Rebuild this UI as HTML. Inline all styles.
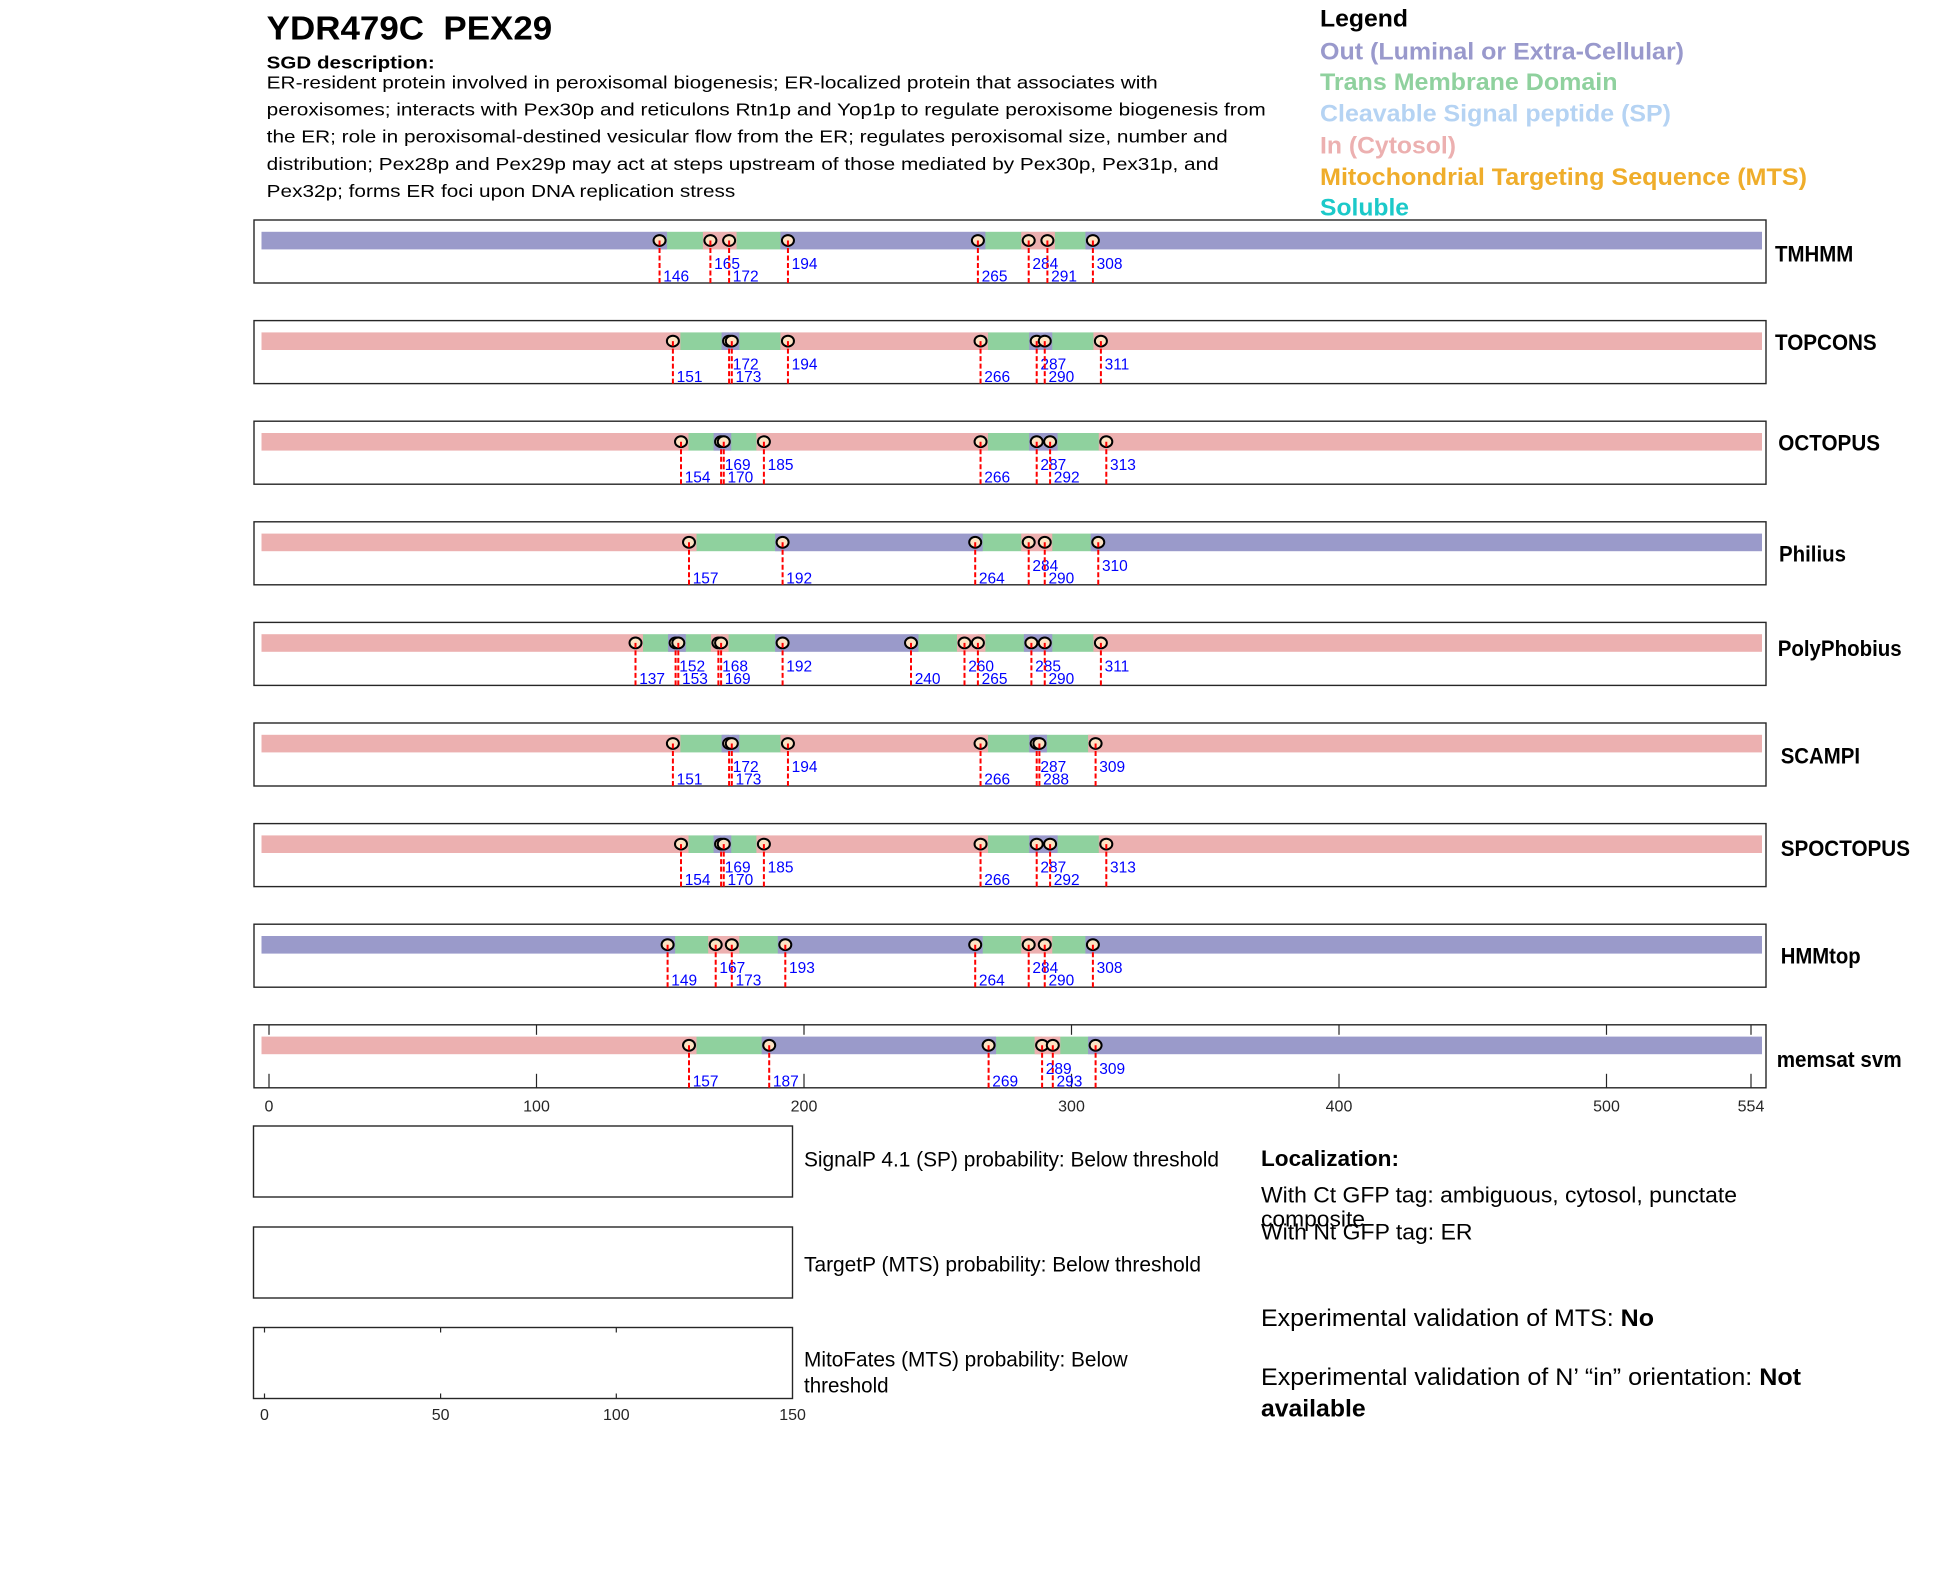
<!DOCTYPE html>
<html>
<head>
<meta charset="utf-8">
<style>
html,body{margin:0;padding:0;background:#fff;}
body{width:1950px;height:1573px;overflow:hidden;}
svg{display:block;}
text{font-family:"Liberation Sans",Arial,sans-serif;}
.n{font-size:15.5px;fill:#0000ff;}
.c{fill:#fde3c4;stroke:#000;stroke-width:2;}
.d{stroke:#ff0000;stroke-width:2;stroke-dasharray:5 2.5;}
.box{fill:none;stroke:#262626;stroke-width:1.4;}
.O{fill:#9a9aca;}
.M{fill:#8fd19e;}
.I{fill:#ecb0b0;}
.lab{font-size:22px;font-weight:bold;fill:#000;}
.tk{stroke:#262626;stroke-width:1.2;}
.ax{font-size:16px;fill:#262626;text-anchor:middle;}
</style>
</head>
<body>
<svg width="1950" height="1573" viewBox="0 0 1950 1573" xmlns="http://www.w3.org/2000/svg">
<defs>
<ellipse id="mk" class="c" cx="0" cy="20.5" rx="6" ry="5.4"/>
</defs>
<rect width="1950" height="1573" fill="#fff"/>

<!-- Header -->
<text x="266.7" y="39.3" font-size="33.5" font-weight="bold" textLength="285.5" lengthAdjust="spacingAndGlyphs">YDR479C&#160; PEX29</text>
<text x="266.7" y="68.3" font-size="17.5" font-weight="bold" textLength="168" lengthAdjust="spacingAndGlyphs">SGD description:</text>
<text x="266.7" y="88.5" font-size="17.5" textLength="891" lengthAdjust="spacingAndGlyphs">ER-resident protein involved in peroxisomal biogenesis; ER-localized protein that associates with</text>
<text x="266.7" y="115.6" font-size="17.5" textLength="999" lengthAdjust="spacingAndGlyphs">peroxisomes; interacts with Pex30p and reticulons Rtn1p and Yop1p to regulate peroxisome biogenesis from</text>
<text x="266.7" y="142.7" font-size="17.5" textLength="961" lengthAdjust="spacingAndGlyphs">the ER; role in peroxisomal-destined vesicular flow from the ER; regulates peroxisomal size, number and</text>
<text x="266.7" y="169.8" font-size="17.5" textLength="952" lengthAdjust="spacingAndGlyphs">distribution; Pex28p and Pex29p may act at steps upstream of those mediated by Pex30p, Pex31p, and</text>
<text x="266.7" y="196.9" font-size="17.5" textLength="468.6" lengthAdjust="spacingAndGlyphs">Pex32p; forms ER foci upon DNA replication stress</text>

<!-- Legend -->
<g font-size="24" font-weight="bold">
<text x="1320" y="26.7" fill="#000" textLength="88" lengthAdjust="spacingAndGlyphs">Legend</text>
<text x="1320" y="59.3" fill="#9999cc" textLength="364" lengthAdjust="spacingAndGlyphs">Out (Luminal or Extra-Cellular)</text>
<text x="1320" y="90" fill="#8fd19e" textLength="297.5" lengthAdjust="spacingAndGlyphs">Trans Membrane Domain</text>
<text x="1320" y="121.7" fill="#b5d3f3" textLength="351" lengthAdjust="spacingAndGlyphs">Cleavable Signal peptide (SP)</text>
<text x="1320" y="153.3" fill="#ecb0b0" textLength="136" lengthAdjust="spacingAndGlyphs">In (Cytosol)</text>
<text x="1320" y="185" fill="#efad2b" textLength="487" lengthAdjust="spacingAndGlyphs">Mitochondrial Targeting Sequence (MTS)</text>
<text x="1320" y="215.7" fill="#1cc9c9" textLength="89" lengthAdjust="spacingAndGlyphs">Soluble</text>
</g>

<!-- ===== TMHMM ===== -->
<g transform="translate(0,220)">
<rect class="M" x="659.55" y="11.8" width="50.85" height="17.6"/>
<rect class="M" x="729.1" y="11.8" width="58.85" height="17.6"/>
<rect class="M" x="977.9" y="11.8" width="50.8" height="17.6"/>
<rect class="M" x="1047.4" y="11.8" width="45.5" height="17.6"/>
<rect class="O" x="261.5" y="11.8" width="405.55" height="17.6"/>
<rect class="I" x="702.9" y="11.8" width="33.7" height="17.6"/>
<rect class="O" x="780.45" y="11.8" width="204.95" height="17.6"/>
<rect class="I" x="1021.2" y="11.8" width="33.7" height="17.6"/>
<rect class="O" x="1085.4" y="11.8" width="676.6" height="17.6"/>
<rect class="box" x="254" y="0" width="1512" height="63"/>
<g transform="translate(659.55,0)"><use href="#mk"/><line class="d" y1="20.5" y2="63"/><text class="n" x="3.7" y="61.5">146</text></g>
<g transform="translate(710.4,0)"><use href="#mk"/><line class="d" y1="20.5" y2="63"/><text class="n" x="3.7" y="49">165</text></g>
<g transform="translate(729.1,0)"><use href="#mk"/><line class="d" y1="20.5" y2="63"/><text class="n" x="3.7" y="61.5">172</text></g>
<g transform="translate(787.95,0)"><use href="#mk"/><line class="d" y1="20.5" y2="63"/><text class="n" x="3.7" y="49">194</text></g>
<g transform="translate(977.9,0)"><use href="#mk"/><line class="d" y1="20.5" y2="63"/><text class="n" x="3.7" y="61.5">265</text></g>
<g transform="translate(1028.7,0)"><use href="#mk"/><line class="d" y1="20.5" y2="63"/><text class="n" x="3.7" y="49">284</text></g>
<g transform="translate(1047.4,0)"><use href="#mk"/><line class="d" y1="20.5" y2="63"/><text class="n" x="3.7" y="61.5">291</text></g>
<g transform="translate(1092.9,0)"><use href="#mk"/><line class="d" y1="20.5" y2="63"/><text class="n" x="3.7" y="49">308</text></g>
<text class="lab" x="1775" y="41.5" textLength="78.3" lengthAdjust="spacingAndGlyphs">TMHMM</text>
</g>

<!-- ===== TOPCONS ===== -->
<g transform="translate(0,320.6)">
<rect class="M" x="672.9" y="11.8" width="56.2" height="17.6"/>
<rect class="M" x="731.8" y="11.8" width="56.15" height="17.6"/>
<rect class="M" x="980.55" y="11.8" width="56.15" height="17.6"/>
<rect class="M" x="1044.75" y="11.8" width="56.15" height="17.6"/>
<rect class="I" x="261.5" y="11.8" width="418.9" height="17.6"/>
<rect class="O" x="721.6" y="11.8" width="17.7" height="17.6"/>
<rect class="I" x="780.45" y="11.8" width="207.6" height="17.6"/>
<rect class="O" x="1029.2" y="11.8" width="23.05" height="17.6"/>
<rect class="I" x="1093.4" y="11.8" width="668.6" height="17.6"/>
<rect class="box" x="254" y="0" width="1512" height="63"/>
<g transform="translate(672.9,0)"><use href="#mk"/><line class="d" y1="20.5" y2="63"/><text class="n" x="3.7" y="61.5">151</text></g>
<g transform="translate(729.1,0)"><use href="#mk"/><line class="d" y1="20.5" y2="63"/><text class="n" x="3.7" y="49">172</text></g>
<g transform="translate(731.8,0)"><use href="#mk"/><line class="d" y1="20.5" y2="63"/><text class="n" x="3.7" y="61.5">173</text></g>
<g transform="translate(787.95,0)"><use href="#mk"/><line class="d" y1="20.5" y2="63"/><text class="n" x="3.7" y="49">194</text></g>
<g transform="translate(980.55,0)"><use href="#mk"/><line class="d" y1="20.5" y2="63"/><text class="n" x="3.7" y="61.5">266</text></g>
<g transform="translate(1036.7,0)"><use href="#mk"/><line class="d" y1="20.5" y2="63"/><text class="n" x="3.7" y="49">287</text></g>
<g transform="translate(1044.75,0)"><use href="#mk"/><line class="d" y1="20.5" y2="63"/><text class="n" x="3.7" y="61.5">290</text></g>
<g transform="translate(1100.9,0)"><use href="#mk"/><line class="d" y1="20.5" y2="63"/><text class="n" x="3.7" y="49">311</text></g>
<text class="lab" x="1775" y="29.5" textLength="101.7" lengthAdjust="spacingAndGlyphs">TOPCONS</text>
</g>

<!-- ===== OCTOPUS ===== -->
<g transform="translate(0,421.2)">
<rect class="M" x="681" y="11.8" width="40.1" height="17.6"/>
<rect class="M" x="723.75" y="11.8" width="40.15" height="17.6"/>
<rect class="M" x="980.55" y="11.8" width="56.15" height="17.6"/>
<rect class="M" x="1050.1" y="11.8" width="56.2" height="17.6"/>
<rect class="I" x="261.5" y="11.8" width="427" height="17.6"/>
<rect class="O" x="713.6" y="11.8" width="17.65" height="17.6"/>
<rect class="I" x="756.4" y="11.8" width="231.65" height="17.6"/>
<rect class="O" x="1029.2" y="11.8" width="28.4" height="17.6"/>
<rect class="I" x="1098.8" y="11.8" width="663.2" height="17.6"/>
<rect class="box" x="254" y="0" width="1512" height="63"/>
<g transform="translate(681,0)"><use href="#mk"/><line class="d" y1="20.5" y2="63"/><text class="n" x="3.7" y="61.5">154</text></g>
<g transform="translate(721.1,0)"><use href="#mk"/><line class="d" y1="20.5" y2="63"/><text class="n" x="3.7" y="49">169</text></g>
<g transform="translate(723.75,0)"><use href="#mk"/><line class="d" y1="20.5" y2="63"/><text class="n" x="3.7" y="61.5">170</text></g>
<g transform="translate(763.9,0)"><use href="#mk"/><line class="d" y1="20.5" y2="63"/><text class="n" x="3.7" y="49">185</text></g>
<g transform="translate(980.55,0)"><use href="#mk"/><line class="d" y1="20.5" y2="63"/><text class="n" x="3.7" y="61.5">266</text></g>
<g transform="translate(1036.7,0)"><use href="#mk"/><line class="d" y1="20.5" y2="63"/><text class="n" x="3.7" y="49">287</text></g>
<g transform="translate(1050.1,0)"><use href="#mk"/><line class="d" y1="20.5" y2="63"/><text class="n" x="3.7" y="61.5">292</text></g>
<g transform="translate(1106.3,0)"><use href="#mk"/><line class="d" y1="20.5" y2="63"/><text class="n" x="3.7" y="49">313</text></g>
<text class="lab" x="1778.3" y="29.5" textLength="101.7" lengthAdjust="spacingAndGlyphs">OCTOPUS</text>
</g>

<!-- ===== Philius ===== -->
<g transform="translate(0,521.8)">
<rect class="M" x="689" y="11.8" width="93.6" height="17.6"/>
<rect class="M" x="975.2" y="11.8" width="53.5" height="17.6"/>
<rect class="M" x="1044.75" y="11.8" width="53.5" height="17.6"/>
<rect class="I" x="261.5" y="11.8" width="435" height="17.6"/>
<rect class="O" x="775.1" y="11.8" width="207.6" height="17.6"/>
<rect class="I" x="1021.2" y="11.8" width="31.05" height="17.6"/>
<rect class="O" x="1090.75" y="11.8" width="671.25" height="17.6"/>
<rect class="box" x="254" y="0" width="1512" height="63"/>
<g transform="translate(689,0)"><use href="#mk"/><line class="d" y1="20.5" y2="63"/><text class="n" x="3.7" y="61.5">157</text></g>
<g transform="translate(782.6,0)"><use href="#mk"/><line class="d" y1="20.5" y2="63"/><text class="n" x="3.7" y="61.5">192</text></g>
<g transform="translate(975.2,0)"><use href="#mk"/><line class="d" y1="20.5" y2="63"/><text class="n" x="3.7" y="61.5">264</text></g>
<g transform="translate(1028.7,0)"><use href="#mk"/><line class="d" y1="20.5" y2="63"/><text class="n" x="3.7" y="49">284</text></g>
<g transform="translate(1044.75,0)"><use href="#mk"/><line class="d" y1="20.5" y2="63"/><text class="n" x="3.7" y="61.5">290</text></g>
<g transform="translate(1098.25,0)"><use href="#mk"/><line class="d" y1="20.5" y2="63"/><text class="n" x="3.7" y="49">310</text></g>
<text class="lab" x="1779" y="39.5" textLength="67" lengthAdjust="spacingAndGlyphs">Philius</text>
</g>

<!-- ===== PolyPhobius ===== -->
<g transform="translate(0,622.4)">
<rect class="M" x="635.5" y="11.8" width="40.1" height="17.6"/>
<rect class="M" x="678.3" y="11.8" width="40.1" height="17.6"/>
<rect class="M" x="721.1" y="11.8" width="61.5" height="17.6"/>
<rect class="M" x="911" y="11.8" width="53.5" height="17.6"/>
<rect class="M" x="977.9" y="11.8" width="53.5" height="17.6"/>
<rect class="M" x="1044.75" y="11.8" width="56.15" height="17.6"/>
<rect class="I" x="261.5" y="11.8" width="381.5" height="17.6"/>
<rect class="O" x="668.1" y="11.8" width="17.7" height="17.6"/>
<rect class="I" x="710.9" y="11.8" width="17.7" height="17.6"/>
<rect class="O" x="775.1" y="11.8" width="143.4" height="17.6"/>
<rect class="I" x="957" y="11.8" width="28.4" height="17.6"/>
<rect class="O" x="1023.9" y="11.8" width="28.35" height="17.6"/>
<rect class="I" x="1093.4" y="11.8" width="668.6" height="17.6"/>
<rect class="box" x="254" y="0" width="1512" height="63"/>
<g transform="translate(635.5,0)"><use href="#mk"/><line class="d" y1="20.5" y2="63"/><text class="n" x="3.7" y="61.5">137</text></g>
<g transform="translate(675.6,0)"><use href="#mk"/><line class="d" y1="20.5" y2="63"/><text class="n" x="3.7" y="49">152</text></g>
<g transform="translate(678.3,0)"><use href="#mk"/><line class="d" y1="20.5" y2="63"/><text class="n" x="3.7" y="61.5">153</text></g>
<g transform="translate(718.4,0)"><use href="#mk"/><line class="d" y1="20.5" y2="63"/><text class="n" x="3.7" y="49">168</text></g>
<g transform="translate(721.1,0)"><use href="#mk"/><line class="d" y1="20.5" y2="63"/><text class="n" x="3.7" y="61.5">169</text></g>
<g transform="translate(782.6,0)"><use href="#mk"/><line class="d" y1="20.5" y2="63"/><text class="n" x="3.7" y="49">192</text></g>
<g transform="translate(911,0)"><use href="#mk"/><line class="d" y1="20.5" y2="63"/><text class="n" x="3.7" y="61.5">240</text></g>
<g transform="translate(964.5,0)"><use href="#mk"/><line class="d" y1="20.5" y2="63"/><text class="n" x="3.7" y="49">260</text></g>
<g transform="translate(977.9,0)"><use href="#mk"/><line class="d" y1="20.5" y2="63"/><text class="n" x="3.7" y="61.5">265</text></g>
<g transform="translate(1031.4,0)"><use href="#mk"/><line class="d" y1="20.5" y2="63"/><text class="n" x="3.7" y="49">285</text></g>
<g transform="translate(1044.75,0)"><use href="#mk"/><line class="d" y1="20.5" y2="63"/><text class="n" x="3.7" y="61.5">290</text></g>
<g transform="translate(1100.9,0)"><use href="#mk"/><line class="d" y1="20.5" y2="63"/><text class="n" x="3.7" y="49">311</text></g>
<text class="lab" x="1777.7" y="33.5" textLength="124" lengthAdjust="spacingAndGlyphs">PolyPhobius</text>
</g>

<!-- ===== SCAMPI ===== -->
<g transform="translate(0,723)">
<rect class="M" x="672.9" y="11.8" width="56.2" height="17.6"/>
<rect class="M" x="731.8" y="11.8" width="56.15" height="17.6"/>
<rect class="M" x="980.55" y="11.8" width="56.15" height="17.6"/>
<rect class="M" x="1039.4" y="11.8" width="56.2" height="17.6"/>
<rect class="I" x="261.5" y="11.8" width="418.9" height="17.6"/>
<rect class="O" x="721.6" y="11.8" width="17.7" height="17.6"/>
<rect class="I" x="780.45" y="11.8" width="207.6" height="17.6"/>
<rect class="O" x="1029.2" y="11.8" width="17.7" height="17.6"/>
<rect class="I" x="1088.1" y="11.8" width="673.9" height="17.6"/>
<rect class="box" x="254" y="0" width="1512" height="63"/>
<g transform="translate(672.9,0)"><use href="#mk"/><line class="d" y1="20.5" y2="63"/><text class="n" x="3.7" y="61.5">151</text></g>
<g transform="translate(729.1,0)"><use href="#mk"/><line class="d" y1="20.5" y2="63"/><text class="n" x="3.7" y="49">172</text></g>
<g transform="translate(731.8,0)"><use href="#mk"/><line class="d" y1="20.5" y2="63"/><text class="n" x="3.7" y="61.5">173</text></g>
<g transform="translate(787.95,0)"><use href="#mk"/><line class="d" y1="20.5" y2="63"/><text class="n" x="3.7" y="49">194</text></g>
<g transform="translate(980.55,0)"><use href="#mk"/><line class="d" y1="20.5" y2="63"/><text class="n" x="3.7" y="61.5">266</text></g>
<g transform="translate(1036.7,0)"><use href="#mk"/><line class="d" y1="20.5" y2="63"/><text class="n" x="3.7" y="49">287</text></g>
<g transform="translate(1039.4,0)"><use href="#mk"/><line class="d" y1="20.5" y2="63"/><text class="n" x="3.7" y="61.5">288</text></g>
<g transform="translate(1095.6,0)"><use href="#mk"/><line class="d" y1="20.5" y2="63"/><text class="n" x="3.7" y="49">309</text></g>
<text class="lab" x="1780.7" y="40.5" textLength="79.3" lengthAdjust="spacingAndGlyphs">SCAMPI</text>
</g>

<!-- ===== SPOCTOPUS ===== -->
<g transform="translate(0,823.6)">
<rect class="M" x="681" y="11.8" width="40.1" height="17.6"/>
<rect class="M" x="723.75" y="11.8" width="40.15" height="17.6"/>
<rect class="M" x="980.55" y="11.8" width="56.15" height="17.6"/>
<rect class="M" x="1050.1" y="11.8" width="56.2" height="17.6"/>
<rect class="I" x="261.5" y="11.8" width="427" height="17.6"/>
<rect class="O" x="713.6" y="11.8" width="17.65" height="17.6"/>
<rect class="I" x="756.4" y="11.8" width="231.65" height="17.6"/>
<rect class="O" x="1029.2" y="11.8" width="28.4" height="17.6"/>
<rect class="I" x="1098.8" y="11.8" width="663.2" height="17.6"/>
<rect class="box" x="254" y="0" width="1512" height="63"/>
<g transform="translate(681,0)"><use href="#mk"/><line class="d" y1="20.5" y2="63"/><text class="n" x="3.7" y="61.5">154</text></g>
<g transform="translate(721.1,0)"><use href="#mk"/><line class="d" y1="20.5" y2="63"/><text class="n" x="3.7" y="49">169</text></g>
<g transform="translate(723.75,0)"><use href="#mk"/><line class="d" y1="20.5" y2="63"/><text class="n" x="3.7" y="61.5">170</text></g>
<g transform="translate(763.9,0)"><use href="#mk"/><line class="d" y1="20.5" y2="63"/><text class="n" x="3.7" y="49">185</text></g>
<g transform="translate(980.55,0)"><use href="#mk"/><line class="d" y1="20.5" y2="63"/><text class="n" x="3.7" y="61.5">266</text></g>
<g transform="translate(1036.7,0)"><use href="#mk"/><line class="d" y1="20.5" y2="63"/><text class="n" x="3.7" y="49">287</text></g>
<g transform="translate(1050.1,0)"><use href="#mk"/><line class="d" y1="20.5" y2="63"/><text class="n" x="3.7" y="61.5">292</text></g>
<g transform="translate(1106.3,0)"><use href="#mk"/><line class="d" y1="20.5" y2="63"/><text class="n" x="3.7" y="49">313</text></g>
<text class="lab" x="1780.7" y="32.5" textLength="129.3" lengthAdjust="spacingAndGlyphs">SPOCTOPUS</text>
</g>

<!-- ===== HMMtop ===== -->
<g transform="translate(0,924.2)">
<rect class="M" x="667.6" y="11.8" width="48.1" height="17.6"/>
<rect class="M" x="731.8" y="11.8" width="53.5" height="17.6"/>
<rect class="M" x="975.2" y="11.8" width="53.5" height="17.6"/>
<rect class="M" x="1044.75" y="11.8" width="48.15" height="17.6"/>
<rect class="O" x="261.5" y="11.8" width="413.6" height="17.6"/>
<rect class="I" x="708.2" y="11.8" width="31.1" height="17.6"/>
<rect class="O" x="777.8" y="11.8" width="204.9" height="17.6"/>
<rect class="I" x="1021.2" y="11.8" width="31.05" height="17.6"/>
<rect class="O" x="1085.4" y="11.8" width="676.6" height="17.6"/>
<rect class="box" x="254" y="0" width="1512" height="63"/>
<g transform="translate(667.6,0)"><use href="#mk"/><line class="d" y1="20.5" y2="63"/><text class="n" x="3.7" y="61.5">149</text></g>
<g transform="translate(715.7,0)"><use href="#mk"/><line class="d" y1="20.5" y2="63"/><text class="n" x="3.7" y="49">167</text></g>
<g transform="translate(731.8,0)"><use href="#mk"/><line class="d" y1="20.5" y2="63"/><text class="n" x="3.7" y="61.5">173</text></g>
<g transform="translate(785.3,0)"><use href="#mk"/><line class="d" y1="20.5" y2="63"/><text class="n" x="3.7" y="49">193</text></g>
<g transform="translate(975.2,0)"><use href="#mk"/><line class="d" y1="20.5" y2="63"/><text class="n" x="3.7" y="61.5">264</text></g>
<g transform="translate(1028.7,0)"><use href="#mk"/><line class="d" y1="20.5" y2="63"/><text class="n" x="3.7" y="49">284</text></g>
<g transform="translate(1044.75,0)"><use href="#mk"/><line class="d" y1="20.5" y2="63"/><text class="n" x="3.7" y="61.5">290</text></g>
<g transform="translate(1092.9,0)"><use href="#mk"/><line class="d" y1="20.5" y2="63"/><text class="n" x="3.7" y="49">308</text></g>
<text class="lab" x="1780.7" y="39.5" textLength="80" lengthAdjust="spacingAndGlyphs">HMMtop</text>
</g>

<!-- ===== memsat svm ===== -->
<g transform="translate(0,1024.8)">
<rect class="M" x="689" y="11.8" width="80.2" height="17.6"/>
<rect class="M" x="988.6" y="11.8" width="53.5" height="17.6"/>
<rect class="M" x="1052.8" y="11.8" width="42.8" height="17.6"/>
<rect class="I" x="261.5" y="11.8" width="435" height="17.6"/>
<rect class="O" x="761.7" y="11.8" width="234.4" height="17.6"/>
<rect class="I" x="1034.6" y="11.8" width="25.7" height="17.6"/>
<rect class="O" x="1088.1" y="11.8" width="673.9" height="17.6"/>
<rect class="box" x="254" y="0" width="1512" height="63"/>
<g class="tk">
<line x1="269" y1="0" x2="269" y2="10"/><line x1="269" y1="49" x2="269" y2="63"/>
<line x1="536.5" y1="0" x2="536.5" y2="10"/><line x1="536.5" y1="49" x2="536.5" y2="63"/>
<line x1="804" y1="0" x2="804" y2="10"/><line x1="804" y1="49" x2="804" y2="63"/>
<line x1="1071.5" y1="0" x2="1071.5" y2="10"/><line x1="1071.5" y1="49" x2="1071.5" y2="63"/>
<line x1="1339" y1="0" x2="1339" y2="10"/><line x1="1339" y1="49" x2="1339" y2="63"/>
<line x1="1606.5" y1="0" x2="1606.5" y2="10"/><line x1="1606.5" y1="49" x2="1606.5" y2="63"/>
<line x1="1751" y1="0" x2="1751" y2="10"/><line x1="1751" y1="49" x2="1751" y2="63"/>
</g>
<g transform="translate(689,0)"><use href="#mk"/><line class="d" y1="20.5" y2="63"/><text class="n" x="3.7" y="61.5">157</text></g>
<g transform="translate(769.2,0)"><use href="#mk"/><line class="d" y1="20.5" y2="63"/><text class="n" x="3.7" y="61.5">187</text></g>
<g transform="translate(988.6,0)"><use href="#mk"/><line class="d" y1="20.5" y2="63"/><text class="n" x="3.7" y="61.5">269</text></g>
<g transform="translate(1042.1,0)"><use href="#mk"/><line class="d" y1="20.5" y2="63"/><text class="n" x="3.7" y="49">289</text></g>
<g transform="translate(1052.8,0)"><use href="#mk"/><line class="d" y1="20.5" y2="63"/><text class="n" x="3.7" y="61.5">293</text></g>
<g transform="translate(1095.6,0)"><use href="#mk"/><line class="d" y1="20.5" y2="63"/><text class="n" x="3.7" y="49">309</text></g>
<text class="lab" x="1776.7" y="42.2" textLength="125" lengthAdjust="spacingAndGlyphs">memsat svm</text>
</g>

<!-- memsat axis labels -->
<text class="ax" x="269" y="1111.7">0</text>
<text class="ax" x="536.5" y="1111.7">100</text>
<text class="ax" x="804" y="1111.7">200</text>
<text class="ax" x="1071.5" y="1111.7">300</text>
<text class="ax" x="1339" y="1111.7">400</text>
<text class="ax" x="1606.5" y="1111.7">500</text>
<text class="ax" x="1751" y="1111.7">554</text>

<!-- Bottom-left probability boxes -->
<rect class="box" x="253.5" y="1126" width="539" height="71"/>
<rect class="box" x="253.5" y="1227" width="539" height="71"/>
<rect class="box" x="253.5" y="1327.5" width="539" height="71"/>
<g class="tk">
<line x1="264.5" y1="1327.5" x2="264.5" y2="1332.5"/><line x1="264.5" y1="1393.5" x2="264.5" y2="1398.5"/>
<line x1="440.6" y1="1327.5" x2="440.6" y2="1332.5"/><line x1="440.6" y1="1393.5" x2="440.6" y2="1398.5"/>
<line x1="616.3" y1="1327.5" x2="616.3" y2="1332.5"/><line x1="616.3" y1="1393.5" x2="616.3" y2="1398.5"/>
</g>
<text class="ax" x="264.5" y="1420">0</text>
<text class="ax" x="440.6" y="1420">50</text>
<text class="ax" x="616.3" y="1420">100</text>
<text class="ax" x="792.6" y="1420">150</text>

<g font-size="21" fill="#000">
<text x="804" y="1166.7" textLength="415" lengthAdjust="spacingAndGlyphs">SignalP 4.1 (SP) probability: Below threshold</text>
<text x="804" y="1271.7" textLength="397" lengthAdjust="spacingAndGlyphs">TargetP (MTS) probability: Below threshold</text>
<text x="804" y="1366.7" textLength="323.7" lengthAdjust="spacingAndGlyphs">MitoFates (MTS) probability: Below</text>
<text x="804" y="1392.7" textLength="84.6" lengthAdjust="spacingAndGlyphs">threshold</text>
</g>

<!-- Bottom-right localization block -->
<text x="1261" y="1166" font-size="22" font-weight="bold" textLength="138" lengthAdjust="spacingAndGlyphs">Localization:</text>
<text x="1261" y="1202.3" font-size="22" textLength="476" lengthAdjust="spacingAndGlyphs">With Ct GFP tag: ambiguous, cytosol, punctate</text>
<text x="1261" y="1226.7" font-size="22" textLength="104" lengthAdjust="spacingAndGlyphs">composite</text>
<text x="1261" y="1239.3" font-size="22" textLength="211.5" lengthAdjust="spacingAndGlyphs">With Nt GFP tag: ER</text>
<text x="1261" y="1326" font-size="24" textLength="393" lengthAdjust="spacingAndGlyphs">Experimental validation of MTS: <tspan font-weight="bold">No</tspan></text>
<text x="1261" y="1385" font-size="24" textLength="540" lengthAdjust="spacingAndGlyphs">Experimental validation of N’ “in” orientation: <tspan font-weight="bold">Not</tspan></text>
<text x="1261" y="1416.7" font-size="24" font-weight="bold" textLength="104.6" lengthAdjust="spacingAndGlyphs">available</text>
</svg>
</body>
</html>
